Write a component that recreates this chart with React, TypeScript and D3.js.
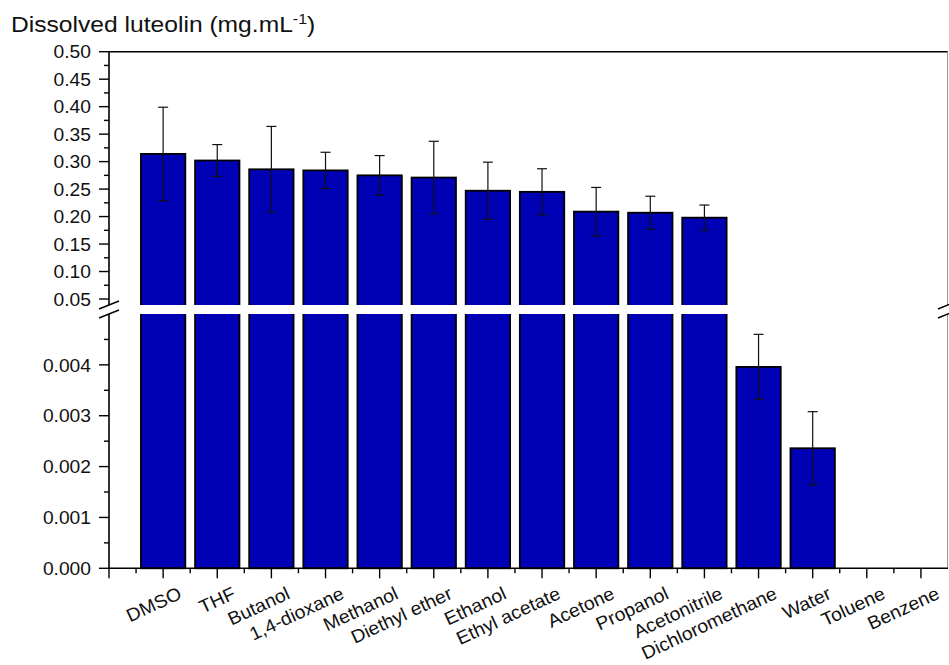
import * as d3 from "d3";

const solvents = [
  "DMSO", "THF", "Butanol", "1,4-dioxane", "Methanol", "Diethyl ether",
  "Ethanol", "Ethyl acetate", "Acetone", "Propanol", "Acetonitrile",
  "Dichloromethane", "Water", "Toluene", "Benzene",
];
const solubility = [
  0.314, 0.302, 0.286, 0.284, 0.275, 0.271, 0.247, 0.245, 0.209, 0.207,
  0.198, 0.00396, 0.00236, 0, 0,
];
const errors = [
  0.085, 0.029, 0.078, 0.033, 0.036, 0.066, 0.052, 0.042, 0.044, 0.030,
  0.023, 0.00064, 0.00072, 0, 0,
];
const upperTicks = [0.05, 0.1, 0.15, 0.2, 0.25, 0.3, 0.35, 0.4, 0.45, 0.5];
const lowerTicks = [0, 0.001, 0.002, 0.003, 0.004];

const W = 949;
const H = 665;
const FONT = "'Liberation Sans', Arial, sans-serif";
const BAR = "#0000b4";

export default function App() {
  // x: category positions, axis spans 0 .. 15.5 (right edge is cut off)
  const x = d3.scaleLinear().domain([0, 15.5]).range([109, 948]);
  // broken y axis: two linear segments
  const yUp = d3.scaleLinear().domain([0.04, 0.5]).range([304.5, 51.7]);
  const yLow = d3.scaleLinear().domain([0, 0.005]).range([568.3, 314]);
  const breakTop = yUp(0.04) + 0.5;
  const breakBottom = yLow(0.005);
  const barW = x(0.82) - x(0);

  const yVal = (v: number) => (v > 0.005 ? yUp(v) : yLow(v));

  const upperMinor = d3.range(0.075, 0.5, 0.05);
  const lowerMinor = d3.range(0.0005, 0.005, 0.001);
  const xMajor = d3.range(0, 16);
  const xMinor = d3.range(0.5, 15.5, 1);

  const x0 = x(0);
  const xEnd = x(15.5);
  const yBase = yLow(0);

  const slash = (cx: number, cy: number) =>
    `M${cx - 10},${cy + 4}L${cx + 10},${cy - 4}`;

  return (
    <svg
      width={W}
      height={H}
      style={{ position: "absolute", left: 0, top: 0, background: "#fff" }}
      fontFamily={FONT}
    >
      {/* title */}
      <text transform="translate(11,32) scale(1.14,1)" fontSize={21.6} fill="#111">
        Dissolved luteolin (mg.mL
        <tspan fontSize={14} dy={-8}>-1</tspan>
        <tspan dy={8}>)</tspan>
      </text>

      {/* bars */}
      {solubility.map((v, i) =>
        v > 0 ? (
          <rect
            key={solvents[i]}
            x={x(i + 1) - barW / 2}
            y={yVal(v)}
            width={barW}
            height={yBase - yVal(v)}
            fill={BAR}
            stroke="#000"
            strokeWidth={1.8}
          />
        ) : null
      )}

      {/* error bars */}
      {solubility.map((v, i) => {
        if (errors[i] <= 0) return null;
        const cx = x(i + 1);
        const yt = yVal(v + errors[i]);
        const yb = yVal(v - errors[i]);
        return (
          <g key={"e" + i} stroke="#111" strokeWidth={1.2}>
            <line x1={cx} x2={cx} y1={yt} y2={yb} />
            <line x1={cx - 5} x2={cx + 5} y1={yt} y2={yt} />
            <line x1={cx - 5} x2={cx + 5} y1={yb} y2={yb} />
          </g>
        );
      })}

      {/* frame */}
      <line x1={x0} x2={xEnd} y1={yUp(0.5)} y2={yUp(0.5)} stroke="#000" strokeWidth={1.6} />
      <line x1={x0} x2={x0} y1={yUp(0.5)} y2={yBase} stroke="#000" strokeWidth={1.6} />
      <line x1={xEnd - 0.5} x2={xEnd - 0.5} y1={yUp(0.5)} y2={yBase} stroke="#999" strokeWidth={1} />
      <line x1={x0} x2={xEnd} y1={yBase} y2={yBase} stroke="#000" strokeWidth={1.6} />

      {/* break gap */}
      <rect x={x0 - 4} y={breakTop} width={W - x0 + 4} height={breakBottom - breakTop} fill="#fff" />
      <g stroke="#000" strokeWidth={1.4}>
        <path d={slash(x0, breakTop)} />
        <path d={slash(x0, breakBottom)} />
        <path d={slash(xEnd, breakTop)} />
        <path d={slash(xEnd, breakBottom)} />
      </g>

      {/* ticks */}
      <g stroke="#000" strokeWidth={1.4}>
        {upperTicks.map((t) => (
          <line key={"uM" + t} x1={x0 - 10} x2={x0} y1={yUp(t)} y2={yUp(t)} />
        ))}
        {upperMinor.map((t) => (
          <line key={"um" + t} x1={x0 - 5} x2={x0} y1={yUp(t)} y2={yUp(t)} />
        ))}
        {lowerTicks.map((t) => (
          <line key={"lM" + t} x1={x0 - 10} x2={x0} y1={yLow(t)} y2={yLow(t)} />
        ))}
        {lowerMinor.map((t) => (
          <line key={"lm" + t} x1={x0 - 5} x2={x0} y1={yLow(t)} y2={yLow(t)} />
        ))}
        {xMajor.map((t) => (
          <line key={"xM" + t} x1={x(t)} x2={x(t)} y1={yBase} y2={yBase + 10} />
        ))}
        {xMinor.map((t) => (
          <line key={"xm" + t} x1={x(t)} x2={x(t)} y1={yBase} y2={yBase + 5} />
        ))}
      </g>

      {/* y tick labels */}
      <g fontSize={18.5} fill="#111" textAnchor="end">
        {upperTicks.map((t) => (
          <text
            key={"ut" + t}
            transform={`translate(${x0 - 18},${yUp(t)}) scale(1.04,1)`}
            dy="0.36em"
          >
            {d3.format(".2f")(t)}
          </text>
        ))}
        {lowerTicks.map((t) => (
          <text
            key={"lt" + t}
            transform={`translate(${x0 - 18},${yLow(t)}) scale(1.04,1)`}
            dy="0.36em"
          >
            {d3.format(".3f")(t)}
          </text>
        ))}
      </g>

      {/* x labels */}
      <g fontSize={18.5} fill="#111" textAnchor="end">
        {solvents.map((s, i) => {
          const tx = x(i + 1) + 17;
          const ty = 592;
          return (
            <text
              key={"xl" + s}
              dy="0.35em"
              transform={`translate(${tx},${ty}) rotate(-25) scale(1.05,1)`}
            >
              {s}
            </text>
          );
        })}
      </g>
    </svg>
  );
}
